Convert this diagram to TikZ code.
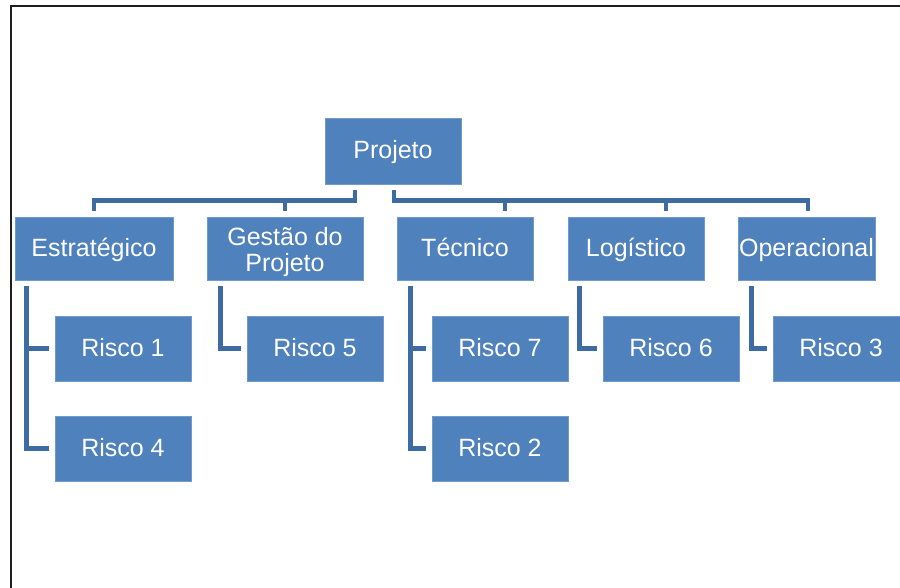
\documentclass[tikz,border=0pt]{standalone}
\usepackage{fontspec}
\setmainfont{Liberation Sans}
\definecolor{boxfill}{RGB}{79,129,189}
\definecolor{boxedge}{RGB}{112,154,206}
\definecolor{linecol}{RGB}{62,107,162}
\definecolor{framecol}{RGB}{30,30,30}
\begin{document}
\begin{tikzpicture}[x=1pt,y=-1pt,
  box/.style={draw=boxedge, line width=0.8pt, fill=boxfill, text=white,
    font=\fontsize{25}{26}\selectfont, inner sep=0pt, align=center,
    text height=21pt, text depth=5pt},
  top/.style={box, minimum width=136pt, minimum height=66pt},
  mid/.style={box, minimum height=63pt},
  leaf/.style={box, minimum width=136pt, minimum height=65pt},
  conn/.style={draw=linecol, line width=4.4pt},
]
\useasboundingbox (0,0) rectangle (900,588);
\begin{scope}
\clip (0,0) rectangle (900,588);

% outer frame
\draw[framecol, line width=2pt] (11,600) -- (11,6) -- (910,6);

% root
\node[top] (p) at (393,151) {Projeto};

% categories
\node[mid, minimum width=158pt] (e) at (94,248.5) {Estratégico};
\node[mid, minimum width=156pt, text height=52pt, text depth=5pt] (g) at (285,248.5) {Gestão do\\Projeto};
\node[mid, minimum width=136pt] (t) at (465,248.5) {Técnico};
\node[mid, minimum width=136pt] (l) at (636,248.5) {Logístico};
\node[mid, minimum width=137pt] (o) at (806.5,248.5) {Operacional};

% risks
\node[leaf] (r1) at (123,348.5) {Risco 1};
\node[leaf] (r4) at (123,448.5) {Risco 4};
\node[leaf] (r5) at (315,348.5) {Risco 5};
\node[leaf] (r7) at (500,348.5) {Risco 7};
\node[leaf] (r2) at (500,448.5) {Risco 2};
\node[leaf] (r6) at (671,348.5) {Risco 6};
\node[leaf] (r3) at (841,348.5) {Risco 3};

% root to categories (left bus)
\draw[conn] ([xshift=-38pt,yshift=-6pt]p.south) |- ([yshift=16pt]e.north) -- ([yshift=6pt]e.north);
\draw[conn] ([xshift=-38pt,yshift=-6pt]p.south) |- ([yshift=16pt]g.north) -- ([yshift=6pt]g.north);
% root to categories (right bus)
\draw[conn] ([xshift=1pt,yshift=-6pt]p.south) |- ([xshift=40pt,yshift=16pt]t.north) -- ([xshift=40pt,yshift=6pt]t.north);
\draw[conn] ([xshift=1pt,yshift=-6pt]p.south) |- ([xshift=30pt,yshift=16pt]l.north) -- ([xshift=30pt,yshift=6pt]l.north);
\draw[conn] ([xshift=1pt,yshift=-6pt]p.south) |- ([xshift=1.5pt,yshift=16pt]o.north) -- ([xshift=1.5pt,yshift=6pt]o.north);

% categories to risks
\draw[conn] ([xshift=12pt,yshift=-6pt]e.south west) |- ([xshift=-6pt]r1.west);
\draw[conn] ([xshift=12pt,yshift=-6pt]e.south west) |- ([xshift=-6pt]r4.west);
\draw[conn] ([xshift=14pt,yshift=-6pt]g.south west) |- ([xshift=-6pt]r5.west);
\draw[conn] ([xshift=14pt,yshift=-6pt]t.south west) |- ([xshift=-6pt]r7.west);
\draw[conn] ([xshift=14pt,yshift=-6pt]t.south west) |- ([xshift=-6pt]r2.west);
\draw[conn] ([xshift=12pt,yshift=-6pt]l.south west) |- ([xshift=-6pt]r6.west);
\draw[conn] ([xshift=14pt,yshift=-6pt]o.south west) |- ([xshift=-6pt]r3.west);
\end{scope}
\end{tikzpicture}
\end{document}
